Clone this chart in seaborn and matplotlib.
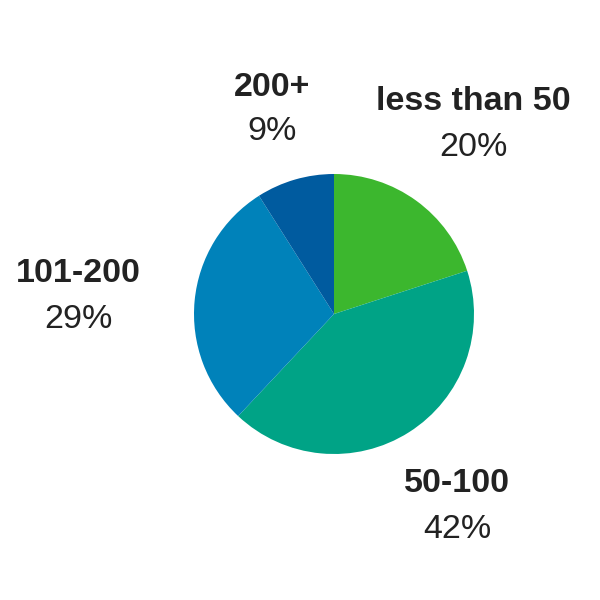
import matplotlib
matplotlib.use("Agg")
import matplotlib.pyplot as plt
import seaborn as sns

categories = ["less than 50", "50-100", "101-200", "200+"]
values = [20, 42, 29, 9]
colors = ["#3cb72e", "#00a386", "#0082ba", "#005b9f"]

sns.set_theme(style="white")
plt.rcParams["font.family"] = ["Liberation Sans", "DejaVu Sans"]

fig = plt.figure(figsize=(6, 6), dpi=100)
W = H = 600.0
cx, cy, r = 334, 314, 140
ax = fig.add_axes([(cx - r) / W, (H - (cy + r)) / H, 2 * r / W, 2 * r / H])
palette = sns.color_palette(colors)
ax.pie(values, colors=palette, startangle=90, counterclock=False,
       radius=1, wedgeprops=dict(linewidth=0))
ax.set_xlim(-1, 1)
ax.set_ylim(-1, 1)
ax.set_aspect("equal")
ax.axis("off")

label_pos = {
    "less than 50": (473, 101, 147),
    "50-100": (457, 484, 529),
    "101-200": (78, 273, 319),
    "200+": (272, 87, 132),
}
for cat, val in zip(categories, values):
    x, y1, y2 = label_pos[cat]
    fig.text(x / W, 1 - y1 / H, cat, ha="center", va="center",
             fontsize=24.5, fontweight="bold", color="#222222")
    fig.text(x / W, 1 - y2 / H, f"{val}%", ha="center", va="center",
             fontsize=24.5, color="#222222")

fig.savefig("out.png", dpi=100, facecolor="white")
